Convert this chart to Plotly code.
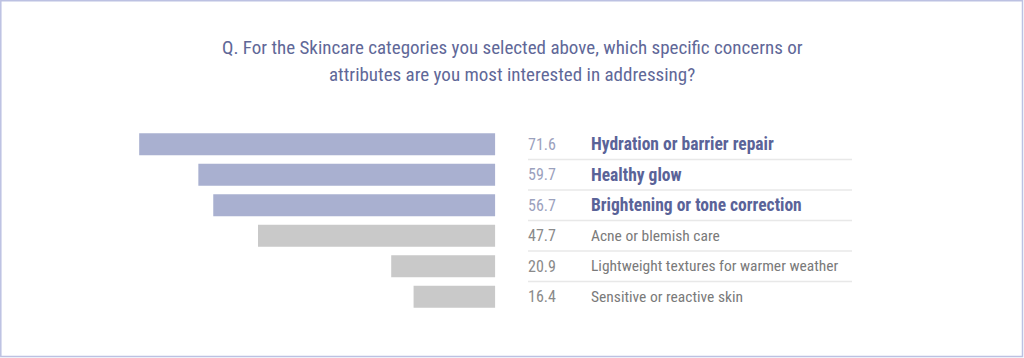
import plotly.graph_objects as go

# ---- data ----
categories = [
    "Hydration or barrier repair",
    "Healthy glow",
    "Brightening or tone correction",
    "Acne or blemish care",
    "Lightweight textures for warmer weather",
    "Sensitive or reactive skin",
]
values = [71.6, 59.7, 56.7, 47.7, 20.9, 16.4]
highlighted = [True, True, True, False, False, False]
title_lines = [
    "Q. For the Skincare categories you selected above, which specific concerns or",
    "attributes are you most interested in addressing?",
]

# ---- style ----
W, H = 1024, 358
FONT = "Liberation Sans Narrow, Roboto Condensed, Arial Narrow, Roboto, sans-serif"
BAR_HI = "#a9b0d0"
BAR_LO = "#c9c9c9"
LABEL_HI = "#5a6398"
LABEL_LO = "#7a7a7a"
VALUE_HI = "#9ba1bd"
VALUE_LO = "#8a8a8a"
TITLE_C = "#5f6898"
BORDER_C = "#bcc1e2"
SEP_C = "#e8e8e8"

T, B = 129, 46
plot_h = H - T - B

def ypaper(px):
    return (H - B - px) / plot_h

bar_colors = [BAR_HI if h else BAR_LO for h in highlighted]

fig = go.Figure(
    go.Bar(
        y=categories,
        x=values,
        orientation="h",
        marker=dict(color=bar_colors, line=dict(width=0)),
        hoverinfo="skip",
    )
)

annotations = []
for cat, v, h in zip(categories, values, highlighted):
    annotations.append(dict(
        x=526 / W, xref="paper", y=cat, yref="y", xanchor="left", yanchor="middle",
        text=f"{v:.1f}", showarrow=False,
        font=dict(family=FONT, size=16, color=VALUE_HI if h else VALUE_LO),
    ))
    annotations.append(dict(
        x=589 / W, xref="paper", y=cat, yref="y", xanchor="left", yanchor="middle",
        text=f"<b>{cat}</b>" if h else cat, showarrow=False,
        font=dict(family=FONT, size=17.5 if h else 15.5, color=LABEL_HI if h else LABEL_LO),
    ))

for line, py in zip(title_lines, [48, 75]):
    annotations.append(dict(
        x=0.5, xref="paper", y=ypaper(py), yref="paper", xanchor="center", yanchor="middle",
        text=line, showarrow=False,
        font=dict(family=FONT, size=19, color=TITLE_C),
    ))

shapes = []
for i in range(len(categories) - 1):
    shapes.append(dict(
        type="line", xref="paper", yref="y",
        x0=528 / W, x1=852 / W, y0=i + 0.5, y1=i + 0.5,
        line=dict(color=SEP_C, width=1.5),
    ))
shapes.append(dict(
    type="rect", xref="paper", yref="paper",
    x0=0.8 / W, x1=1022.5 / W, y0=ypaper(356.5), y1=ypaper(0.8),
    line=dict(color=BORDER_C, width=1.5), fillcolor="rgba(0,0,0,0)", layer="above",
))

fig.update_layout(
    width=W, height=H,
    margin=dict(l=0, r=0, t=T, b=B, pad=0),
    paper_bgcolor="white", plot_bgcolor="white",
    bargap=0.28,
    showlegend=False,
    xaxis=dict(range=[99.6, -106.4], visible=False, fixedrange=True),
    yaxis=dict(range=[len(categories) - 0.5, -0.5], visible=False, fixedrange=True,
               categoryorder="array", categoryarray=categories),
    annotations=annotations,
    shapes=shapes,
)

fig.write_html(
    "out.html",
    config={"displayModeBar": False},
    post_script="document.body.style.margin='0';document.body.style.padding='0';",
)
